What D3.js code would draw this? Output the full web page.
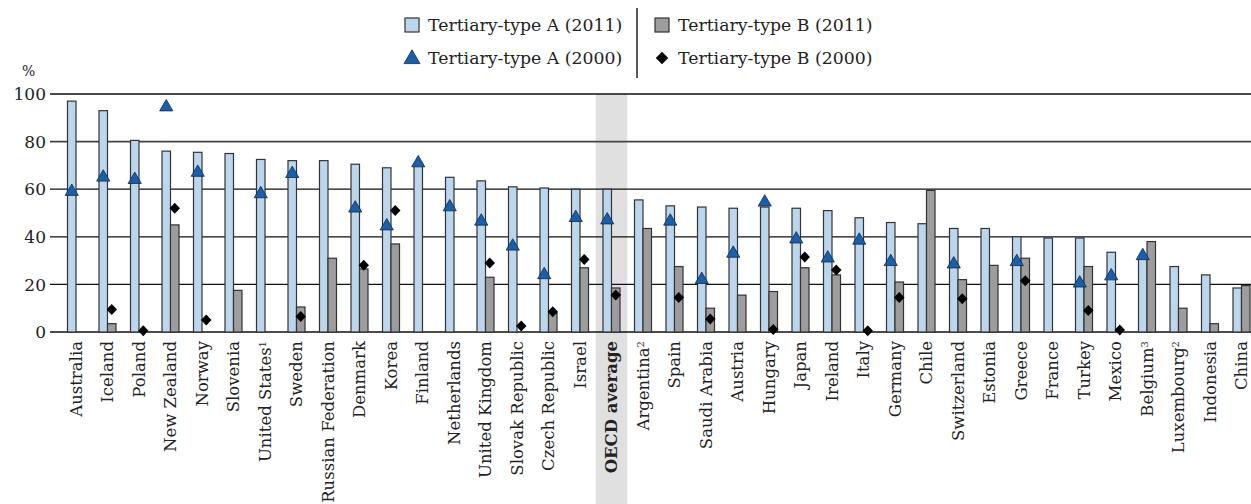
<!DOCTYPE html>
<html>
<head lang="en">
    <meta charset="UTF-8">
    <title></title>
    <script src="https://cdnjs.cloudflare.com/ajax/libs/d3/7.8.5/d3.min.js"></script>
    <style>
        body { margin: 0; background: #fff; }
        text { font-family: "DejaVu Serif", serif; fill: #222; }
    </style>
</head>
<body>

<script>

    var countries = ["Australia", "Iceland", "Poland", "New Zealand", "Norway", "Slovenia", "United States",
        "Sweden", "Russian Federation", "Denmark", "Korea", "Finland", "Netherlands", "United Kingdom",
        "Slovak Republic", "Czech Republic", "Israel", "OECD average", "Argentina", "Spain", "Saudi Arabia",
        "Austria", "Hungary", "Japan", "Ireland", "Italy", "Germany", "Chile", "Switzerland", "Estonia",
        "Greece", "France", "Turkey", "Mexico", "Belgium", "Luxembourg", "Indonesia", "China"];

    // footnote markers shown as superscripts
    var notes = {"United States": "1", "Argentina": "2", "Belgium": "3", "Luxembourg": "2"};

    var typeA2011 = [97, 93, 80.5, 76, 75.5, 75, 72.5, 72, 72, 70.5, 69, 70.5, 65, 63.5, 61, 60.5, 60, 60,
        55.5, 53, 52.5, 52, 52.5, 52, 51, 48, 46, 45.5, 43.5, 43.5, 40, 39.5, 39.5, 33.5, 31, 27.5, 24, 18.5];

    var typeB2011 = [null, 3.5, null, 45, null, 17.5, null, 10.5, 31, 26.5, 37, null, null, 23, null, 8, 27, 18.5,
        43.5, 27.5, 10, 15.5, 17, 27, 24, null, 21, 59.5, 22, 28, 31, null, 27.5, null, 38, 10, 3.5, 19.5];

    var typeA2000 = [59, 65, 64, 94.5, 67, null, 58, 66.5, null, 52, 44.5, 71, 52.5, 46.5, 36, 24, 48, 47,
        null, 46.5, 22, 33, 54.5, 39, 31, 38.5, 29.5, null, 28.5, null, 29.5, null, 20.5, 23.5, 32, null, null, null];

    var typeB2000 = [null, 9.5, 0.5, 52, 5, null, null, 6.5, null, 28, 51, null, null, 29, 2.5, 8.5, 30.5, 15.5,
        null, 14.5, 5.5, null, 1, 31.5, 26, 0.5, 14.5, null, 14, null, 21.5, null, 9, 0.8, null, null, null, null];

    var yTicks = [0, 20, 40, 60, 80, 100];

    var width = 1251;
    var height = 504;

    var data = countries.map(function(c, i){
        return {name: c, a11: typeA2011[i], b11: typeB2011[i], a00: typeA2000[i], b00: typeB2000[i]};
    });

    var svg = d3.select("body")
            .append("svg")
            .attr("width", width)
            .attr("height", height);

    var x0 = d3.scaleBand()
            .domain(countries)
            .range([60.25, 1257.25])
            .paddingInner(0.46)
            .paddingOuter(0.23);

    var x1 = d3.scaleBand()
            .domain(["A", "B"])
            .range([0, x0.bandwidth()]);

    var y = d3.scaleLinear()
            .domain([0, 100])
            .range([332, 94]);

    // shaded OECD average column
    var oecdX = x0("OECD average") - x0.step() * x0.paddingInner() / 2;
    svg.append("rect")
            .attr("x", oecdX)
            .attr("y", y(100))
            .attr("width", x0.step())
            .attr("height", height - y(100))
            .attr("fill", "#e0e0e0");

    // grid lines + y labels
    svg.selectAll("line.grid")
            .data(yTicks)
            .enter()
            .append("line")
            .attr("class", "grid")
            .attr("x1", 50)
            .attr("x2", width)
            .attr("y1", function(d){ return y(d); })
            .attr("y2", function(d){ return y(d); })
            .attr("stroke", function(d){ return d === 80 ? "#444" : "#111"; })
            .attr("stroke-width", function(d){ return d === 80 ? 1.8 : 1.3; });

    svg.selectAll("text.ytick")
            .data(yTicks)
            .enter()
            .append("text")
            .attr("class", "ytick")
            .attr("x", 46)
            .attr("y", function(d){ return y(d); })
            .attr("dy", "0.36em")
            .attr("text-anchor", "end")
            .style("font-size", "17px")
            .text(function(d){ return d; });

    svg.append("text")
            .attr("x", 22)
            .attr("y", 76)
            .style("font-size", "14px")
            .text("%");

    var groups = svg.selectAll("g.country")
            .data(data)
            .enter()
            .append("g")
            .attr("class", "country")
            .attr("transform", function(d){ return "translate(" + x0(d.name) + ",0)"; });

    // bars
    groups.filter(function(d){ return d.a11 !== null; })
            .append("rect")
            .attr("x", x1("A"))
            .attr("y", function(d){ return y(d.a11); })
            .attr("width", x1.bandwidth())
            .attr("height", function(d){ return y(0) - y(d.a11); })
            .attr("fill", "#bcd6ee")
            .attr("stroke", "#333")
            .attr("stroke-width", 1.2);

    groups.filter(function(d){ return d.b11 !== null; })
            .append("rect")
            .attr("x", x1("B"))
            .attr("y", function(d){ return y(d.b11); })
            .attr("width", x1.bandwidth())
            .attr("height", function(d){ return y(0) - y(d.b11); })
            .attr("fill", "#9d9d9d")
            .attr("stroke", "#333")
            .attr("stroke-width", 1.2);

    // markers
    var tri = d3.symbol().type(d3.symbolTriangle).size(75);
    var dia = d3.symbol().type(d3.symbolDiamond2).size(70);

    groups.filter(function(d){ return d.a00 !== null; })
            .append("path")
            .attr("d", tri)
            .attr("transform", function(d){
                return "translate(" + (x1("A") + x1.bandwidth() / 2) + "," + y(d.a00) + ")";
            })
            .attr("fill", "#1b5fa8")
            .attr("stroke", "#0b2a4f")
            .attr("stroke-width", 0.8);

    groups.filter(function(d){ return d.b00 !== null; })
            .append("path")
            .attr("d", dia)
            .attr("transform", function(d){
                return "translate(" + (x1("B") + x1.bandwidth() / 2) + "," + y(d.b00) + ") scale(1,1.05)";
            })
            .attr("fill", "#000");

    // category labels
    var labels = groups.append("text")
            .attr("transform", "translate(" + (x0.bandwidth() / 2) + ",341) rotate(-90)")
            .attr("dy", "0.36em")
            .attr("text-anchor", "end")
            .style("font-size", "16.5px")
            .style("font-weight", function(d){ return d.name === "OECD average" ? "bold" : "normal"; })
            .text(function(d){ return d.name; });

    labels.filter(function(d){ return notes[d.name]; })
            .append("tspan")
            .attr("baseline-shift", "super")
            .style("font-size", "10px")
            .text(function(d){ return notes[d.name]; });

    // legend
    var legend = svg.append("g");

    legend.append("line")
            .attr("x1", 637).attr("x2", 637)
            .attr("y1", 8).attr("y2", 78)
            .attr("stroke", "#222")
            .attr("stroke-width", 1.5);

    var legendItems = [
        {label: "Tertiary-type A (2011)", kind: "barA", x: 405, y: 25},
        {label: "Tertiary-type A (2000)", kind: "tri", x: 405, y: 58},
        {label: "Tertiary-type B (2011)", kind: "barB", x: 655, y: 25},
        {label: "Tertiary-type B (2000)", kind: "dia", x: 655, y: 58}
    ];

    legendItems.forEach(function(item){
        if (item.kind === "barA" || item.kind === "barB") {
            legend.append("rect")
                    .attr("x", item.x).attr("y", item.y - 7)
                    .attr("width", 14).attr("height", 14)
                    .attr("fill", item.kind === "barA" ? "#bcd6ee" : "#9d9d9d")
                    .attr("stroke", "#333")
                    .attr("stroke-width", 1.2);
        } else if (item.kind === "tri") {
            legend.append("path")
                    .attr("d", d3.symbol().type(d3.symbolTriangle).size(110))
                    .attr("transform", "translate(" + (item.x + 7) + "," + (item.y + 1) + ")")
                    .attr("fill", "#1b5fa8")
                    .attr("stroke", "#0b2a4f")
                    .attr("stroke-width", 0.8);
        } else {
            legend.append("path")
                    .attr("d", d3.symbol().type(d3.symbolDiamond2).size(100))
                    .attr("transform", "translate(" + (item.x + 7) + "," + item.y + ")")
                    .attr("fill", "#000");
        }
        legend.append("text")
                .attr("x", item.x + 23)
                .attr("y", item.y)
                .attr("dy", "0.36em")
                .style("font-size", "17.3px")
                .text(item.label);
    });

</script>

</body>
</html>
